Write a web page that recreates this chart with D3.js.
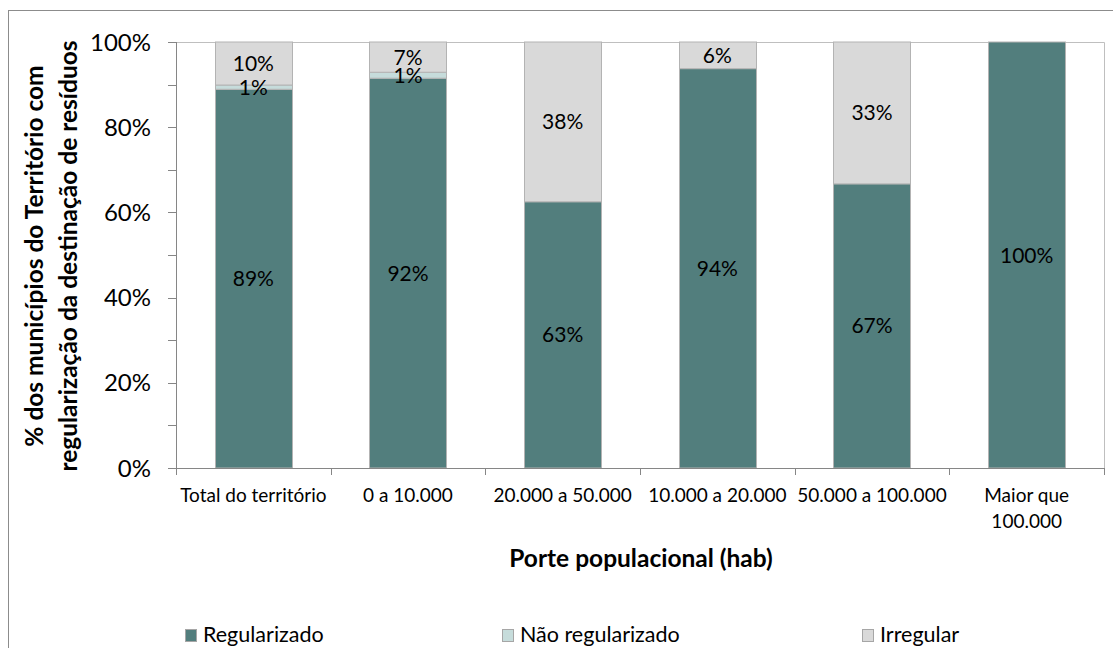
<!DOCTYPE html>
<html><head><meta charset="utf-8">
<script src="https://cdn.jsdelivr.net/npm/d3@7"></script>
<style>body{margin:0;background:#fff;font-family:Lato, "Open Sans", sans-serif;}</style>
</head><body>
<svg id="c" width="1113" height="648"></svg>
<script>
const categories = ["Total do território","0 a 10.000","20.000 a 50.000","10.000 a 20.000","50.000 a 100.000","Maior que 100.000"];
const seriesNames = ["Regularizado","Não regularizado","Irregular"];
const regularizado = [88.9, 91.5, 62.5, 93.75, 66.7, 100];
const naoRegularizado = [1.0, 1.4, 0, 0, 0, 0];
const irregular = [10.1, 7.1, 37.5, 6.25, 33.3, 0];
const yTicks = [0,20,40,60,80,100];
const colors = ["#527e7d","#c6dcdb","#d9d9d9"];

const svg = d3.select("#c");
const font = "Lato, 'Open Sans', sans-serif";
svg.append("rect").attr("x",8.5).attr("y",10.5).attr("width",1120).attr("height",660)
  .attr("fill","none").attr("stroke","#8c8c8c");

const m = {left:176, right:1104, top:42, bottom:468};
const x = d3.scaleBand().domain(categories).range([m.left,m.right]).paddingInner(0.5).paddingOuter(0.25);
const y = d3.scaleLinear().domain([0,100]).range([m.bottom,m.top]);

// plot border (top/right)
svg.append("path").attr("d",`M${m.left},${m.top+0.5}H${m.right+0.5}V${m.bottom}`).attr("fill","none").attr("stroke","#bfbfbf");

const data = categories.map((c,i)=>({cat:c, vals:[regularizado[i],naoRegularizado[i],irregular[i]]}));
const stack = d3.stack().keys([0,1,2]).value((d,k)=>d.vals[k])(data);

const g = svg.append("g");
stack.forEach((s,k)=>{
  g.selectAll(null).data(s.filter(d=>d[1]-d[0]>0)).enter().append("rect")
    .attr("x",d=>Math.round(x(d.data.cat))+0.5).attr("width",Math.round(x.bandwidth()))
    .attr("y",d=>y(d[1])).attr("height",d=>y(d[0])-y(d[1]))
    .attr("fill",colors[k]).attr("stroke","#b3b3b3").attr("stroke-width",1);
});
stack.forEach((s,k)=>{
  g.selectAll(null).data(s.filter(d=>d[1]-d[0]>0)).enter().append("text")
    .attr("x",d=>x(d.data.cat)+x.bandwidth()/2).attr("y",d=>y((d[0]+d[1])/2))
    .attr("dy","0.36em").attr("text-anchor","middle").attr("font-family",font).attr("font-size",21).attr("fill","#000")
    .text(d=>Math.round(d[1]-d[0])+"%");
});

// y axis
const ya = svg.append("g");
ya.append("line").attr("x1",m.left+0.5).attr("x2",m.left+0.5).attr("y1",m.top).attr("y2",m.bottom).attr("stroke","#868686");
d3.range(0,101,10).forEach(t=>{
  ya.append("line").attr("x1",m.left-8).attr("x2",m.left).attr("y1",Math.round(y(t))+0.5).attr("y2",Math.round(y(t))+0.5).attr("stroke","#868686");
});
yTicks.forEach(t=>{
  ya.append("text").attr("x",151).attr("y",y(t)).attr("dy","0.36em").attr("text-anchor","end")
    .attr("font-family",font).attr("font-size",24).text(t+"%");
});
// x axis
const xa = svg.append("g");
xa.append("line").attr("x1",m.left).attr("x2",m.right+1).attr("y1",m.bottom+0.5).attr("y2",m.bottom+0.5).attr("stroke","#868686");
d3.range(categories.length+1).forEach(i=>{
  const px = Math.round(m.left + i*(m.right-m.left)/categories.length)+0.5;
  xa.append("line").attr("x1",px).attr("x2",px).attr("y1",m.bottom).attr("y2",m.bottom+7).attr("stroke","#868686");
});
categories.forEach((c,i)=>{
  const cx = x(c)+x.bandwidth()/2;
  const t = xa.append("text").attr("text-anchor","middle").attr("font-family",font).attr("font-size",19);
  if(c==="Maior que 100.000"){
    t.append("tspan").attr("x",cx).attr("y",502).text("Maior que");
    t.append("tspan").attr("x",cx).attr("y",528).text("100.000");
  } else {
    t.attr("x",cx).attr("y",502).text(c);
  }
});

svg.append("text").attr("x",641).attr("y",567).attr("text-anchor","middle").attr("font-family",font)
  .attr("font-weight","bold").attr("font-size",24.5).text("Porte populacional (hab)");
const yt = svg.append("text").attr("transform","translate(0,256) rotate(-90)").attr("text-anchor","middle")
  .attr("font-family",font).attr("font-weight","bold").attr("font-size",24.5);
yt.append("tspan").attr("x",0).attr("y",43).text("% dos municípios do Território com");
yt.append("tspan").attr("x",0).attr("y",77).text("regularização da destinação de resíduos");

// legend
const legX = [185, 502, 862];
seriesNames.forEach((n,i)=>{
  svg.append("rect").attr("x",legX[i]+0.5).attr("y",629.5).attr("width",11).attr("height",12)
    .attr("fill",colors[i]).attr("stroke","#a6a6a6");
  svg.append("text").attr("x",legX[i]+18).attr("y",642).attr("font-family",font)
    .attr("font-size",21.5).text(n);
});
</script>
</body></html>
